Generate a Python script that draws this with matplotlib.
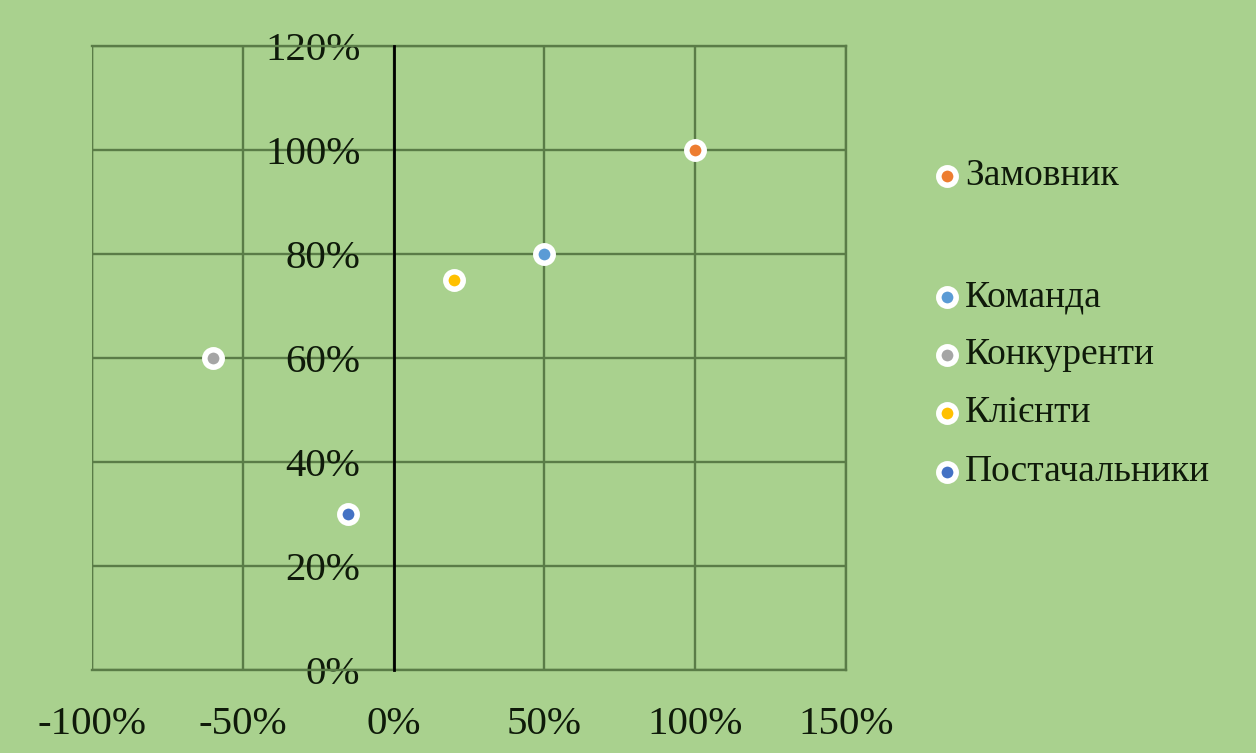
import matplotlib.pyplot as plt
from matplotlib.ticker import FuncFormatter

# дані
names = ['Замовник', 'Команда', 'Конкуренти', 'Клієнти', 'Постачальники']
x_vals = [1.00, 0.50, -0.60, 0.20, -0.15]
y_vals = [1.00, 0.80, 0.60, 0.75, 0.30]
colors = ['#ED7D31', '#5B9BD5', '#A5A5A5', '#FFC000', '#4472C4']
x_ticks = [-1.0, -0.5, 0.0, 0.5, 1.0, 1.5]
y_ticks = [0.0, 0.2, 0.4, 0.6, 0.8, 1.0, 1.2]

# позиції легенди (пікселі від верху)
legend_y_px = [176, 297, 355, 413, 472]

plt.rcParams['font.family'] = ['Liberation Serif', 'DejaVu Serif']

W, H = 1256, 753
bg = '#A9D18E'
grid_c = '#5A7C47'
txt_c = '#0F1A0A'

fig = plt.figure(figsize=(W / 100, H / 100), dpi=100)
fig.patch.set_facecolor(bg)
ax = fig.add_axes([92 / W, 1 - 670 / H, (846 - 92) / W, (670 - 46) / H])
ax.set_facecolor(bg)

ax.set_xlim(-1.0, 1.5)
ax.set_ylim(0.0, 1.2)
ax.set_xticks(x_ticks)
ax.set_yticks(y_ticks)
pct = FuncFormatter(lambda v, p: f'{v * 100:.0f}%')
ax.xaxis.set_major_formatter(pct)
ax.yaxis.set_major_formatter(pct)

ax.grid(True, color=grid_c, linewidth=1.7)
ax.set_axisbelow(True)

for s in ['top', 'right', 'bottom']:
    ax.spines[s].set_color(grid_c)
    ax.spines[s].set_linewidth(1.7)
ax.spines['left'].set_position(('data', 0))
ax.spines['left'].set_color('black')
ax.spines['left'].set_linewidth(2)
ax.spines['left'].set_zorder(3)
# лінія сітки на -100%
ax.axvline(-1.0, color=grid_c, linewidth=1.7, zorder=0.5)

ax.tick_params(axis='both', length=0, labelsize=29.5, labelcolor=txt_c)
ax.tick_params(axis='y', pad=24)
ax.tick_params(axis='x', pad=26)

for xv, yv, c, n in zip(x_vals, y_vals, colors, names):
    ax.plot(xv, yv, 'o', markersize=12.5, markerfacecolor=c,
            markeredgecolor='white', markeredgewidth=4, zorder=5,
            clip_on=False)

# легенда вручну
for n, c, ypx in zip(names, colors, legend_y_px):
    yf = 1 - ypx / H
    fig.lines.append(plt.Line2D([947 / W], [yf], marker='o', markersize=12.5,
                                markerfacecolor=c, markeredgecolor='white',
                                markeredgewidth=4, transform=fig.transFigure))
    fig.text(965 / W, yf, n, fontsize=27, va='center', ha='left', color=txt_c)

fig.savefig('out.png', dpi=100, facecolor=bg)
